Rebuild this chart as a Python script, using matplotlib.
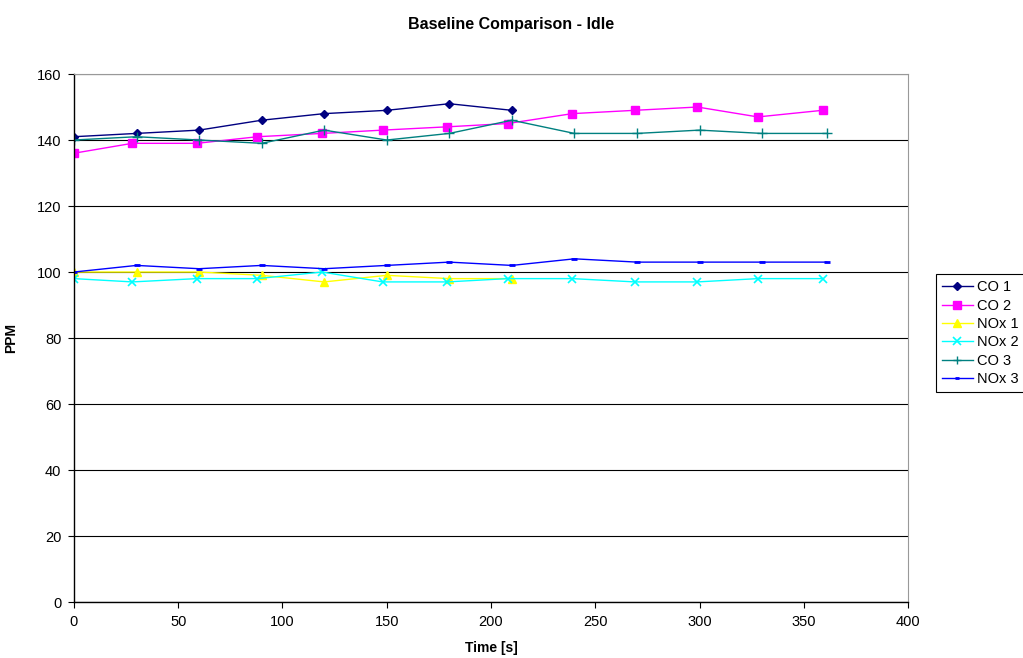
import matplotlib
matplotlib.use("Agg")
import matplotlib.pyplot as plt

plt.rcParams['font.family'] = ['Liberation Sans', 'DejaVu Sans']

# time stamps per test run
t1 = [0, 30, 60, 90, 120, 150, 180, 210]
t2 = [0, 28, 59, 88, 119, 148, 179, 208, 239, 269, 299, 328, 359]
t3 = [0, 30, 60, 90, 120, 150, 180, 210, 240, 270, 300, 330, 361]

co1 = [141, 142, 143, 146, 148, 149, 151, 149]
co2 = [136, 139, 139, 141, 142, 143, 144, 145, 148, 149, 150, 147, 149]
nox1 = [100, 100, 100, 99, 97, 99, 98, 98]
nox2 = [98, 97, 98, 98, 100, 97, 97, 98, 98, 97, 97, 98, 98]
co3 = [140, 141, 140, 139, 143, 140, 142, 146, 142, 142, 143, 142, 142]
nox3 = [100, 102, 101, 102, 101, 102, 103, 102, 104, 103, 103, 103, 103]

fig = plt.figure(figsize=(10.23, 6.58), dpi=100)
ax = fig.add_axes([0.0723, 0.0851, 0.8153, 0.8024])

ax.plot(t1, co1, color='#000080', marker='D', markersize=4.5, lw=1, label='CO 1')
ax.plot(t2, co2, color='#FF00FF', marker='s', markersize=6, lw=1, label='CO 2')
ax.plot(t1, nox1, color='#FFFF00', marker='^', markersize=6, lw=1, label='NOx 1')
ax.plot(t2, nox2, color='#00FFFF', marker='x', markersize=6, mew=1.2, lw=1, label='NOx 2')
ax.plot(t3, co3, color='#008080', marker='+', markersize=7, mew=1, lw=1, label='CO 3')
ax.plot(t3, nox3, color='#0000FF', marker='_', markersize=4, mew=2, lw=1, label='NOx 3')

ax.set_xlim(0, 400)
ax.set_ylim(0, 160)
ax.set_xticks(range(0, 401, 50))
ax.set_yticks(range(0, 161, 20))
ax.grid(axis='y', color='black', lw=0.8)
ax.set_axisbelow(True)
for s in ['top', 'right']:
    ax.spines[s].set_color('#999999')
for s in ['left', 'bottom']:
    ax.spines[s].set_color('black')
    ax.spines[s].set_linewidth(1)
ax.tick_params(labelsize=10.5, length=4, direction='out', pad=5)

ax.set_xlabel('Time [s]', fontsize=10, fontweight='bold', labelpad=9)
ax.set_ylabel('PPM', fontsize=10, fontweight='bold')
ax.yaxis.set_label_coords(-0.067, 0.5)
fig.text(0.5, 0.963, 'Baseline Comparison - Idle', ha='center', va='center',
         fontsize=11.5, fontweight='bold')

leg = fig.legend(loc='upper left', bbox_to_anchor=(0.908, 0.594), fontsize=10.5,
                 frameon=True, fancybox=False, edgecolor='black', framealpha=1,
                 handlelength=2.1, handletextpad=0.3, labelspacing=0.3,
                 borderpad=0.4, markerscale=0.85)
leg.get_frame().set_linewidth(0.8)

fig.savefig('out.png', dpi=100)
